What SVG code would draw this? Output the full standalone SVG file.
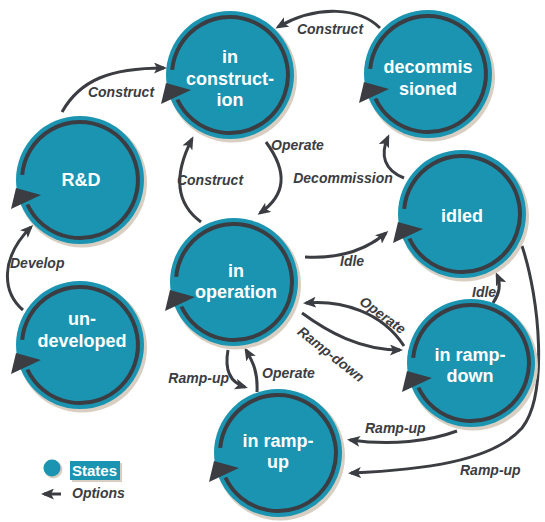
<svg xmlns="http://www.w3.org/2000/svg" xmlns:xlink="http://www.w3.org/1999/xlink" width="545" height="522" viewBox="0 0 545 522">
<style>
.bg{fill:#ffffff}
.shadow{fill:#d8cfc2}
.disc{fill:#1a94b1}
.ring{fill:none;stroke:#3b3d42;stroke-width:4}
.loophead{fill:#3b3d42}
.name{font-family:"Liberation Sans",Arial,sans-serif;font-weight:bold;font-size:18px;fill:#ffffff;text-anchor:middle}
.edge{fill:none;stroke:#3b3d42;stroke-width:3;marker-end:url(#ah)}
.lbl{font-family:"Liberation Sans",Arial,sans-serif;font-weight:bold;font-style:italic;font-size:14px;fill:#3b3d42}
.mid{text-anchor:middle}
.end{text-anchor:end}
</style>
<defs>
<marker id="ah" markerWidth="13" markerHeight="11" refX="10" refY="5.5" orient="auto" markerUnits="userSpaceOnUse">
<path d="M0,0 L13,5.5 L0,11 L3,5.5 z" fill="#3b3d42"/>
</marker>
<g id="state">
<circle class="shadow" cx="2" cy="2.5" r="65"/>
<circle class="disc" cx="0" cy="0" r="64"/>
<path class="ring" d="M-57.8,-5.1 A58,58 0 1 1 -52.6,24.5"/>
<polygon class="loophead" points="-64,8 -39,15 -69,29"/>
</g>
</defs>
<rect class="bg" x="0" y="0" width="545" height="522"/>

<g id="connectors">
<path class="edge" d="M62,112 C80,80 110,68 164,68"/>
<path class="edge" d="M380,28 C360,8 318,4 278,27"/>
<path class="edge" d="M266,142 C288,172 286,195 260,213"/>
<path class="edge" d="M201,222 C178,205 172,178 192,139"/>
<path class="edge" d="M23,310 C2,292 0,258 31,227"/>
<path class="edge" d="M404,178 C384,170 380,155 388,137"/>
<path class="edge" d="M305,257 C340,259 366,250 386,233"/>
<path class="edge" d="M493,303 C500,293 501,284 497,275"/>
<path class="edge" d="M404,346 C382,312 342,300 306,303"/>
<path class="edge" d="M302,313 C328,332 360,350 400,350"/>
<path class="edge" d="M228,350 C224,372 232,383 245,387"/>
<path class="edge" d="M257,392 C258,372 253,362 246,350"/>
<path class="edge" d="M457,431 C430,441 392,446 350,440"/>
<path class="edge" d="M522,246 C540,300 548,395 522,428 C492,462 420,470 351,473"/>
<text class="lbl mid" x="121" y="97">Construct</text>
<text class="lbl mid" x="330" y="34">Construct</text>
<text class="lbl" x="271" y="150">Operate</text>
<text class="lbl mid" x="210" y="185">Construct</text>
<text class="lbl" x="10" y="268">Develop</text>
<text class="lbl mid" x="343" y="183">Decommission</text>
<text class="lbl" x="340" y="266">Idle</text>
<text class="lbl" x="472" y="297">Idle</text>
<text class="lbl mid" transform="translate(380,319) rotate(36)">Operate</text>
<text class="lbl mid" transform="translate(328,358) rotate(38)">Ramp-down</text>
<text class="lbl end" x="229" y="383">Ramp-up</text>
<text class="lbl" x="262" y="378">Operate</text>
<text class="lbl" x="365" y="433">Ramp-up</text>
<text class="lbl" x="460" y="475">Ramp-up</text>
</g>

<g id="n_construction">
<use xlink:href="#state" x="230" y="75"/>
<text class="name" x="230" y="63">in</text>
<text class="name" x="230" y="85">construct-</text>
<text class="name" x="230" y="106">ion</text>
</g>
<g id="n_decommissioned">
<use xlink:href="#state" x="428" y="74"/>
<text class="name" x="428" y="73">decommis</text>
<text class="name" x="428" y="95">sioned</text>
</g>
<g id="n_rd">
<use xlink:href="#state" x="80" y="180"/>
<text class="name" x="81" y="186">R&amp;D</text>
</g>
<g id="n_idled">
<use xlink:href="#state" x="462" y="214"/>
<text class="name" x="462" y="222">idled</text>
</g>
<g id="n_operation">
<use xlink:href="#state" x="234" y="282"/>
<text class="name" x="236" y="277">in</text>
<text class="name" x="236" y="298">operation</text>
</g>
<g id="n_undeveloped">
<use xlink:href="#state" x="80" y="345"/>
<text class="name" x="82" y="325">un-</text>
<text class="name" x="82" y="347">developed</text>
</g>
<g id="n_rampdown">
<use xlink:href="#state" x="471" y="363"/>
<text class="name" x="470" y="361">in ramp-</text>
<text class="name" x="470" y="382">down</text>
</g>
<g id="n_rampup">
<use xlink:href="#state" x="278" y="453"/>
<text class="name" x="278" y="447">in ramp-</text>
<text class="name" x="278" y="468">up</text>
</g>

<g id="legend">
<circle class="shadow" cx="53.5" cy="469.5" r="9"/>
<circle class="disc" cx="52" cy="468" r="8.5"/>
<rect class="shadow" x="72" y="463" width="50" height="19"/>
<rect class="disc" x="70" y="461" width="50" height="19"/>
<text x="72" y="476" style="font-family:'Liberation Sans',Arial,sans-serif;font-weight:bold;font-size:15px;fill:#ffffff">States</text>
<path class="edge" d="M61,494 L44,494"/>
<text class="lbl" x="72" y="498">Options</text>
</g>
</svg>
